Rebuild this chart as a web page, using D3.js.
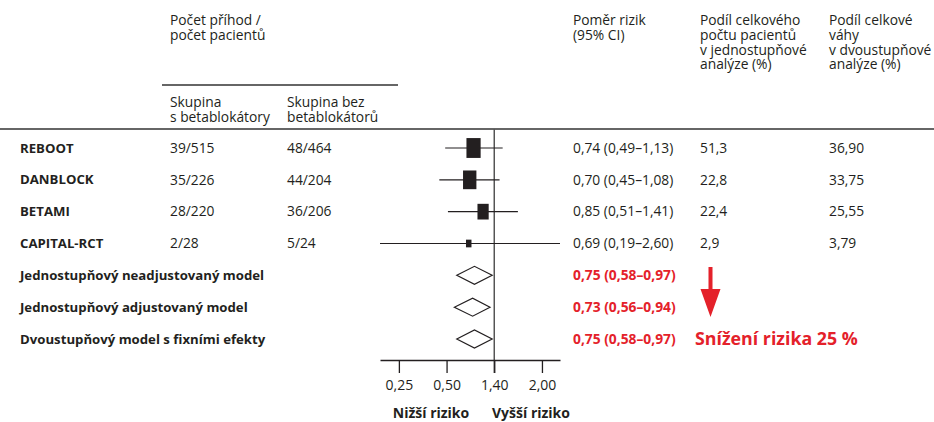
<!DOCTYPE html>
<html>
<head>
<meta charset="utf-8">
<script src="https://cdn.jsdelivr.net/npm/d3@7"></script>
<style>
  body { margin: 0; background: #fff; }
  svg { font-family: "Open Sans", sans-serif; fill: #231f20; }
  .b { font-weight: bold; }
  .red { fill: #e4212a; }
</style>
</head>
<body>
<div id="chart"></div>
<script>
// studies
var studies = ["REBOOT", "DANBLOCK", "BETAMI", "CAPITAL-RCT"]
var eventsBB = ["39/515", "35/226", "28/220", "2/28"]
var eventsNoBB = ["48/464", "44/204", "36/206", "5/24"]
var hr = [0.74, 0.70, 0.85, 0.69]
var hrLo = [0.49, 0.45, 0.51, 0.19]
var hrHi = [1.13, 1.08, 1.41, 2.60]
var sharePatients = [51.3, 22.8, 22.4, 2.9]
var weights = [36.90, 33.75, 25.55, 3.79]

// pooled models
var models = ["Jednostupňový neadjustovaný model", "Jednostupňový adjustovaný model", "Dvoustupňový model s fixními efekty"]
var modelHr = [0.75, 0.73, 0.75]
var modelLo = [0.58, 0.56, 0.58]
var modelHi = [0.97, 0.94, 0.97]

var tickValues = [0.25, 0.5, 1, 2]
var tickLabels = ["0,25", "0,50", "1,40", "2,00"]

var W = 934, H = 422
var svg = d3.select("#chart").append("svg").attr("width", W).attr("height", H)

var comma = function(fmt) { var f = d3.format(fmt); return function(v) { return f(v).replace(".", ",") } }
var f2 = comma(".2f"), f1 = comma(".1f")
var ci = function(m, l, h) { return f2(m) + " (" + f2(l) + "–" + f2(h) + ")" }

var x = d3.scaleLog().domain([0.19, 2.6]).range([380, 560])
var y = d3.scalePoint().domain(d3.range(7)).range([148, 339])
var boxW = d3.scaleLinear().domain([0, 40]).range([4.5, 15])

var col = { name: 20, bb: 170, nobb: 287, rr: 573, share: 700, weight: 829 }
var fs = "13.8px", fsName = "13.2px"

// header
function multiline(xp, y0, lines, lh) {
  var t = svg.append("text").attr("x", xp).attr("y", y0).style("font-size", fs)
  lines.forEach(function(l, i) { t.append("tspan").attr("x", xp).attr("dy", i ? lh : 0).text(l) })
}
multiline(col.bb, 25, ["Počet příhod /", "počet pacientů"], 15)
multiline(col.bb, 107, ["Skupina", "s betablokátory"], 15)
multiline(col.nobb, 107, ["Skupina bez", "betablokátorů"], 15)
multiline(col.rr, 25, ["Poměr rizik", "(95% CI)"], 15)
multiline(col.share, 25, ["Podíl celkového", "počtu pacientů", "v jednostupňové", "analýze (%)"], 14.8)
multiline(col.weight, 25, ["Podíl celkové", "váhy", "v dvoustupňové", "analýze (%)"], 14.8)

svg.append("line").attr("x1", 162).attr("x2", 398).attr("y1", 85).attr("y2", 85)
  .attr("stroke", "#333").attr("stroke-width", 1.3)
svg.append("line").attr("x1", 0).attr("x2", W).attr("y1", 129).attr("y2", 129)
  .attr("stroke", "#333").attr("stroke-width", 1.5)

// reference line at 1
svg.append("line").attr("x1", x(1)).attr("x2", x(1)).attr("y1", 129).attr("y2", 373)
  .attr("stroke", "#555").attr("stroke-width", 1.5)

// study rows
var rows = svg.append("g").selectAll("g").data(studies).enter().append("g")
rows.append("text").attr("class", "b").attr("x", col.name).attr("y", function(d, i) { return y(i) })
  .attr("dy", "0.35em").style("font-size", fsName).text(function(d) { return d })
rows.append("text").attr("x", col.bb).attr("y", function(d, i) { return y(i) }).attr("dy", "0.35em")
  .style("font-size", fs).text(function(d, i) { return eventsBB[i] })
rows.append("text").attr("x", col.nobb).attr("y", function(d, i) { return y(i) }).attr("dy", "0.35em")
  .style("font-size", fs).text(function(d, i) { return eventsNoBB[i] })
rows.append("text").attr("x", col.rr).attr("y", function(d, i) { return y(i) }).attr("dy", "0.35em")
  .style("font-size", fs).text(function(d, i) { return ci(hr[i], hrLo[i], hrHi[i]) })
rows.append("text").attr("x", col.share).attr("y", function(d, i) { return y(i) }).attr("dy", "0.35em")
  .style("font-size", fs).text(function(d, i) { return f1(sharePatients[i]) })
rows.append("text").attr("x", col.weight).attr("y", function(d, i) { return y(i) }).attr("dy", "0.35em")
  .style("font-size", fs).text(function(d, i) { return f2(weights[i]) })
rows.append("line")
  .attr("x1", function(d, i) { return x(hrLo[i]) }).attr("x2", function(d, i) { return x(hrHi[i]) })
  .attr("y1", function(d, i) { return y(i) }).attr("y2", function(d, i) { return y(i) })
  .attr("stroke", "#231f20").attr("stroke-width", 1.2)
rows.append("rect")
  .attr("x", function(d, i) { return x(hr[i]) - boxW(weights[i]) / 2 })
  .attr("y", function(d, i) { return y(i) - boxW(weights[i]) * 0.7 })
  .attr("width", function(d, i) { return boxW(weights[i]) })
  .attr("height", function(d, i) { return boxW(weights[i]) * 1.4 })
  .attr("fill", "#231f20")

// pooled rows
var mrows = svg.append("g").selectAll("g").data(models).enter().append("g")
mrows.append("text").attr("class", "b").attr("x", col.name).attr("y", function(d, i) { return y(i + 4) })
  .attr("dy", "0.35em").style("font-size", fsName).text(function(d) { return d })
mrows.append("text").attr("class", "b red").attr("x", col.rr).attr("y", function(d, i) { return y(i + 4) })
  .attr("dy", "0.35em").style("font-size", fs).text(function(d, i) { return ci(modelHr[i], modelLo[i], modelHi[i]) })
mrows.append("path")
  .attr("d", function(d, i) {
    var yy = y(i + 4)
    return "M" + x(modelLo[i]) + "," + yy + "L" + x(modelHr[i]) + "," + (yy - 9) +
      "L" + x(modelHi[i]) + "," + yy + "L" + x(modelHr[i]) + "," + (yy + 9) + "Z"
  })
  .attr("fill", "#fff").attr("stroke", "#231f20").attr("stroke-width", 1.2)

// axis
var axis = svg.append("g").attr("transform", "translate(0,360)")
  .call(d3.axisBottom(x).tickValues(tickValues).tickSize(13).tickSizeOuter(0)
    .tickFormat(function(d, i) { return tickLabels[i] }))
axis.select(".domain").attr("stroke", "#231f20").attr("stroke-width", 1.3)
axis.selectAll(".tick line").attr("stroke", "#231f20").attr("stroke-width", 1.3)
axis.selectAll(".tick text").attr("y", 20).attr("dy", "0.71em")
  .style("font-family", "Open Sans, sans-serif").style("font-size", "14px").attr("fill", "#231f20")

svg.append("text").attr("class", "b").attr("x", 431).attr("y", 418).attr("text-anchor", "middle")
  .style("font-size", "14px").text("Nižší riziko")
svg.append("text").attr("class", "b").attr("x", 531).attr("y", 418).attr("text-anchor", "middle")
  .style("font-size", "14px").text("Vyšší riziko")

// annotation
svg.append("path")
  .attr("d", "M708.5,267 L712.5,267 L712.5,289 L720.5,289 L710.5,317 L700.5,289 L708.5,289 Z")
  .attr("fill", "#e4212a")
svg.append("text").attr("class", "b red").attr("x", 695).attr("y", 345)
  .style("font-size", "17.8px").text("Snížení rizika 25 %")
</script>
</body>
</html>
